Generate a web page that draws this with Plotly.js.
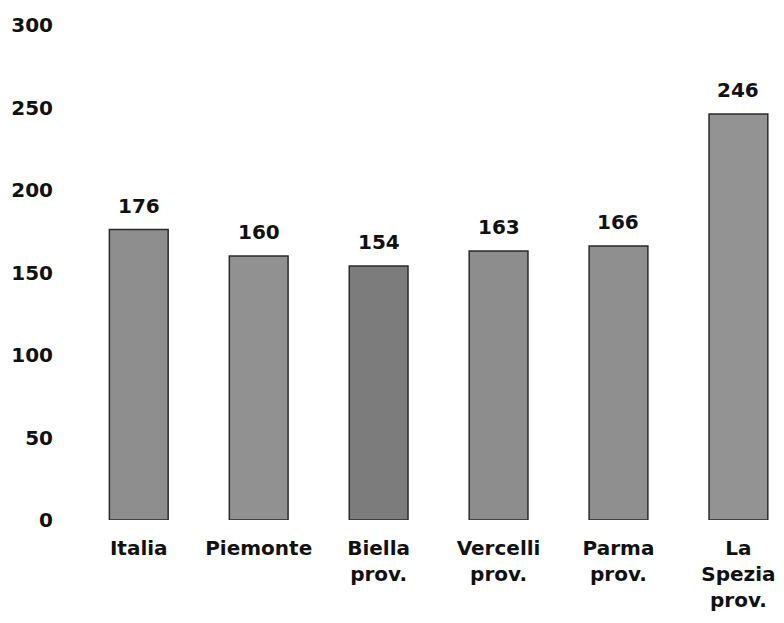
<!DOCTYPE html>
<html>
<head>
<meta charset="utf-8">
<script src="https://cdn.plot.ly/plotly-3.0.1.min.js"></script>
<style>html,body{margin:0;padding:0;background:#fff;}#chart{width:784px;height:623px;}</style>
</head>
<body>
<div id="chart"></div>
<script>
const categories = ["Italia", "Piemonte", "Biella<br>prov.", "Vercelli<br>prov.", "Parma<br>prov.", "La<br>Spezia<br>prov."];
const values = [176, 160, 154, 163, 166, 246];
const barColors = ["#8e8e8e", "#919191", "#7c7c7c", "#8d8d8d", "#8f8f8f", "#939393"];
const yTicks = [0, 50, 100, 150, 200, 250, 300];

const font = {family: "DejaVu Sans, sans-serif", size: 20, color: "#111", weight: "bold"};

const trace = {
  type: "bar",
  x: categories,
  y: values,
  width: 0.49,
  marker: {color: barColors, line: {color: "#2a2a2a", width: 1.5}},
  hoverinfo: "none"
};

const annotations = categories.map((c, i) => ({
  x: c, y: values[i], text: String(values[i]), showarrow: false,
  yanchor: "bottom", yshift: 10, font: font
}));

const layout = {
  width: 784, height: 623,
  margin: {l: 80, r: 0, t: 25, b: 103},
  paper_bgcolor: "#fff", plot_bgcolor: "#fff",
  showlegend: false,
  bargap: 0.5,
  xaxis: {
    type: "category", range: [-0.49, 5.38],
    showline: false, showgrid: false, zeroline: false, ticks: "",
    tickfont: font, ticklabelstandoff: 14
  },
  yaxis: {
    range: [0, 300], tickvals: yTicks, ticktext: yTicks.map(String),
    showline: false, showgrid: false, zeroline: false, ticks: "",
    tickfont: font, ticklabelstandoff: 26
  },
  annotations: annotations
};

Plotly.newPlot("chart", [trace], layout, {displayModeBar: false, staticPlot: true});
</script>
</body>
</html>
